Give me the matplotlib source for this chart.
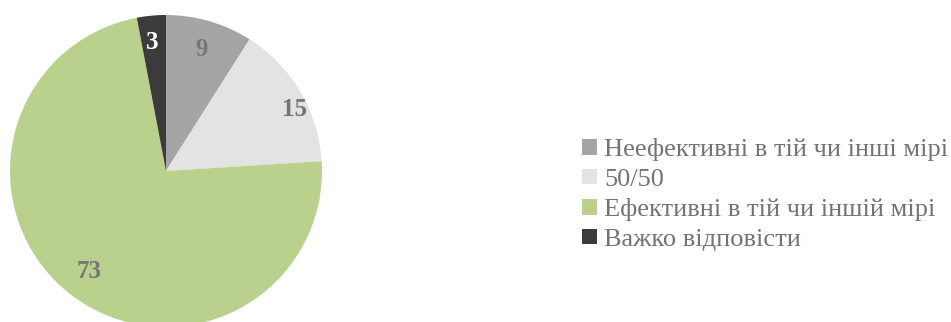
import numpy as np
import matplotlib
matplotlib.use("Agg")
import matplotlib.pyplot as plt

plt.rcParams['font.family'] = ['Liberation Serif', 'DejaVu Serif']

labels = ["Неефективні в тій чи інші мірі", "50/50",
          "Ефективні в тій чи іншій мірі", "Важко відповісти"]
values = [9, 15, 73, 3]
colors = ["#A5A5A5", "#E3E3E3", "#B9D18D", "#3B3B3B"]
text_colors = ["#767676", "#767676", "#767676", "#FFFFFF"]
# label placement (fraction of radius, angle tweak in degrees)
label_dist = [0.82, 0.92, 0.80, 0.84]
label_shift = [0, -4.5, 0, 0.5]

fig = plt.figure(figsize=(9.51, 3.22), dpi=100)
# pie centre ~ (166,171) px, radius ~156 px
ax = fig.add_axes([10/951, -5/322, 312/951, 312/322])
wedges, _ = ax.pie(values, colors=colors, startangle=90, counterclock=False,
                   radius=1.0, wedgeprops=dict(linewidth=0))
ax.set_xlim(-1, 1)
ax.set_ylim(-1, 1)
ax.set_aspect('equal')
ax.axis('off')

for w, v, tc, d, s in zip(wedges, values, text_colors, label_dist, label_shift):
  ang = np.deg2rad((w.theta1 + w.theta2) / 2.0 + s)
  ax.text(d*np.cos(ang), d*np.sin(ang) - 0.01, str(v), ha='center', va='center',
          fontsize=18, fontweight='bold', color=tc)

fig.legend(wedges, labels, loc='center left', bbox_to_anchor=(0.612, 0.396),
           frameon=False, fontsize=19, labelcolor='#737373',
           handlelength=0.55, handleheight=0.55, handletextpad=0.3,
           labelspacing=0.28, borderpad=0, borderaxespad=0)

fig.savefig("out.png", dpi=100)
